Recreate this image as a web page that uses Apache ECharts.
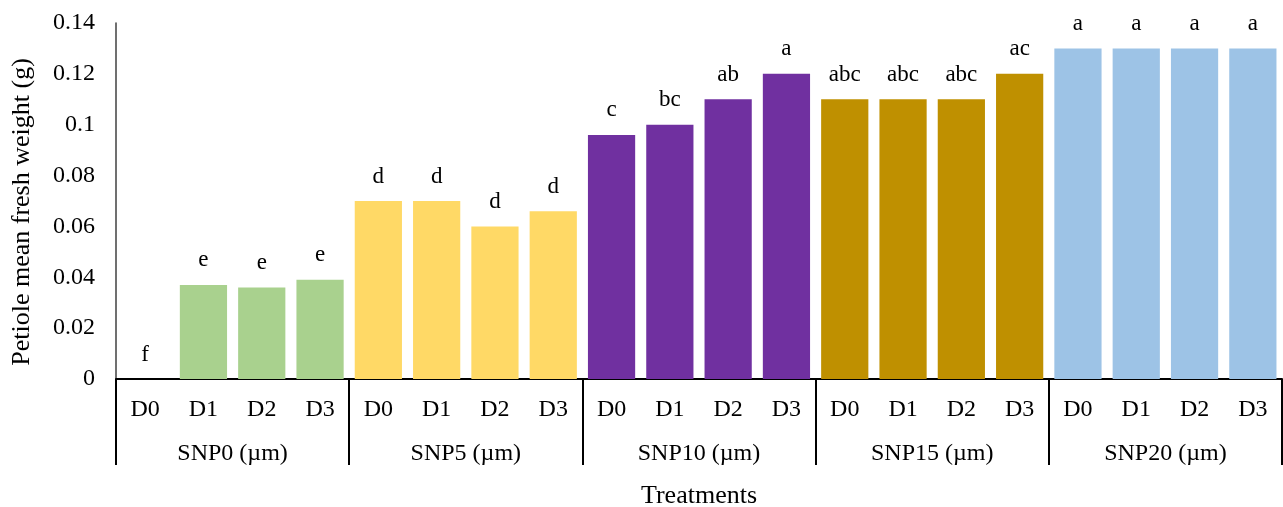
<!DOCTYPE html>
<html>
<head>
<meta charset="utf-8">
<script src="https://cdn.jsdelivr.net/npm/echarts@6/dist/echarts.min.js"></script>
<style>
html,body{margin:0;padding:0;background:#fff;}
#chart{width:1283px;height:507px;}
</style>
</head>
<body>
<div id="chart"></div>
<script>
const groups = ['SNP0 (µm)', 'SNP5 (µm)', 'SNP10 (µm)', 'SNP15 (µm)', 'SNP20 (µm)'];
const doses = ['D0', 'D1', 'D2', 'D3'];
const snp0 = [0, 0.037, 0.036, 0.039];
const snp5 = [0.070, 0.070, 0.060, 0.066];
const snp10 = [0.096, 0.100, 0.110, 0.120];
const snp15 = [0.110, 0.110, 0.110, 0.120];
const snp20 = [0.130, 0.130, 0.130, 0.130];
const letters0 = ['f', 'e', 'e', 'e'];
const letters5 = ['d', 'd', 'd', 'd'];
const letters10 = ['c', 'bc', 'ab', 'a'];
const letters15 = ['abc', 'abc', 'abc', 'ac'];
const letters20 = ['a', 'a', 'a', 'a'];
const yTicks = { min: 0, max: 0.14, interval: 0.02 };

const palette = ['#A9D18E', '#FFD966', '#7030A0', '#BF9000', '#9DC3E6'];
const allValues = [snp0, snp5, snp10, snp15, snp20];
const allLetters = [letters0, letters5, letters10, letters15, letters20];

const categories = [];
const barData = [];
allValues.forEach((vals, g) => {
  vals.forEach((v, i) => {
    categories.push(doses[i]);
    barData.push({
      value: v,
      itemStyle: { color: palette[g] },
      label: { formatter: allLetters[g][i] }
    });
  });
});

const font = 'Liberation Serif, Times New Roman, serif';
const chart = echarts.init(document.getElementById('chart'));
chart.setOption({
  animation: false,
  grid: { left: 116, right: 1, top: 23, bottom: 128, containLabel: false, outerBoundsMode: 'none' },
  xAxis: [
    {
      type: 'category',
      data: categories,
      position: 'bottom',
      axisLine: { show: true, lineStyle: { color: '#000', width: 2 } },
      axisTick: { show: false },
      axisLabel: { interval: 0, fontFamily: font, fontSize: 24, color: '#000', margin: 31, verticalAlign: 'middle' },
      name: 'Treatments',
      nameLocation: 'middle',
      nameGap: 117,
      nameTextStyle: { fontFamily: font, fontSize: 26, color: '#000', verticalAlign: 'middle' }
    },
    {
      type: 'category',
      data: groups,
      position: 'bottom',
      axisLine: { show: false },
      axisTick: { show: true, length: 86, interval: 0, lineStyle: { color: '#000', width: 2 } },
      axisLabel: { interval: 0, fontFamily: font, fontSize: 24, color: '#000', margin: 75, verticalAlign: 'middle' }
    }
  ],
  yAxis: {
    type: 'value',
    min: yTicks.min,
    max: yTicks.max,
    interval: yTicks.interval,
    splitLine: { show: false },
    axisLine: { show: true, lineStyle: { color: '#404040', width: 1.5 } },
    axisTick: { show: false },
    axisLabel: { fontFamily: font, fontSize: 24, color: '#000', margin: 21, padding: [4, 0, 0, 0] },
    name: 'Petiole mean fresh weight (g)',
    nameLocation: 'middle',
    nameGap: 94,
    nameRotate: 90,
    nameTextStyle: { fontFamily: font, fontSize: 26, color: '#000', verticalAlign: 'middle', padding: [0, 22, 0, 0] }
  },
  series: [{
    type: 'bar',
    xAxisIndex: 0,
    data: barData,
    barCategoryGap: '19%',
    label: { show: true, position: 'top', distance: 13, fontFamily: font, fontSize: 23, color: '#000' }
  }]
});
</script>
</body>
</html>
